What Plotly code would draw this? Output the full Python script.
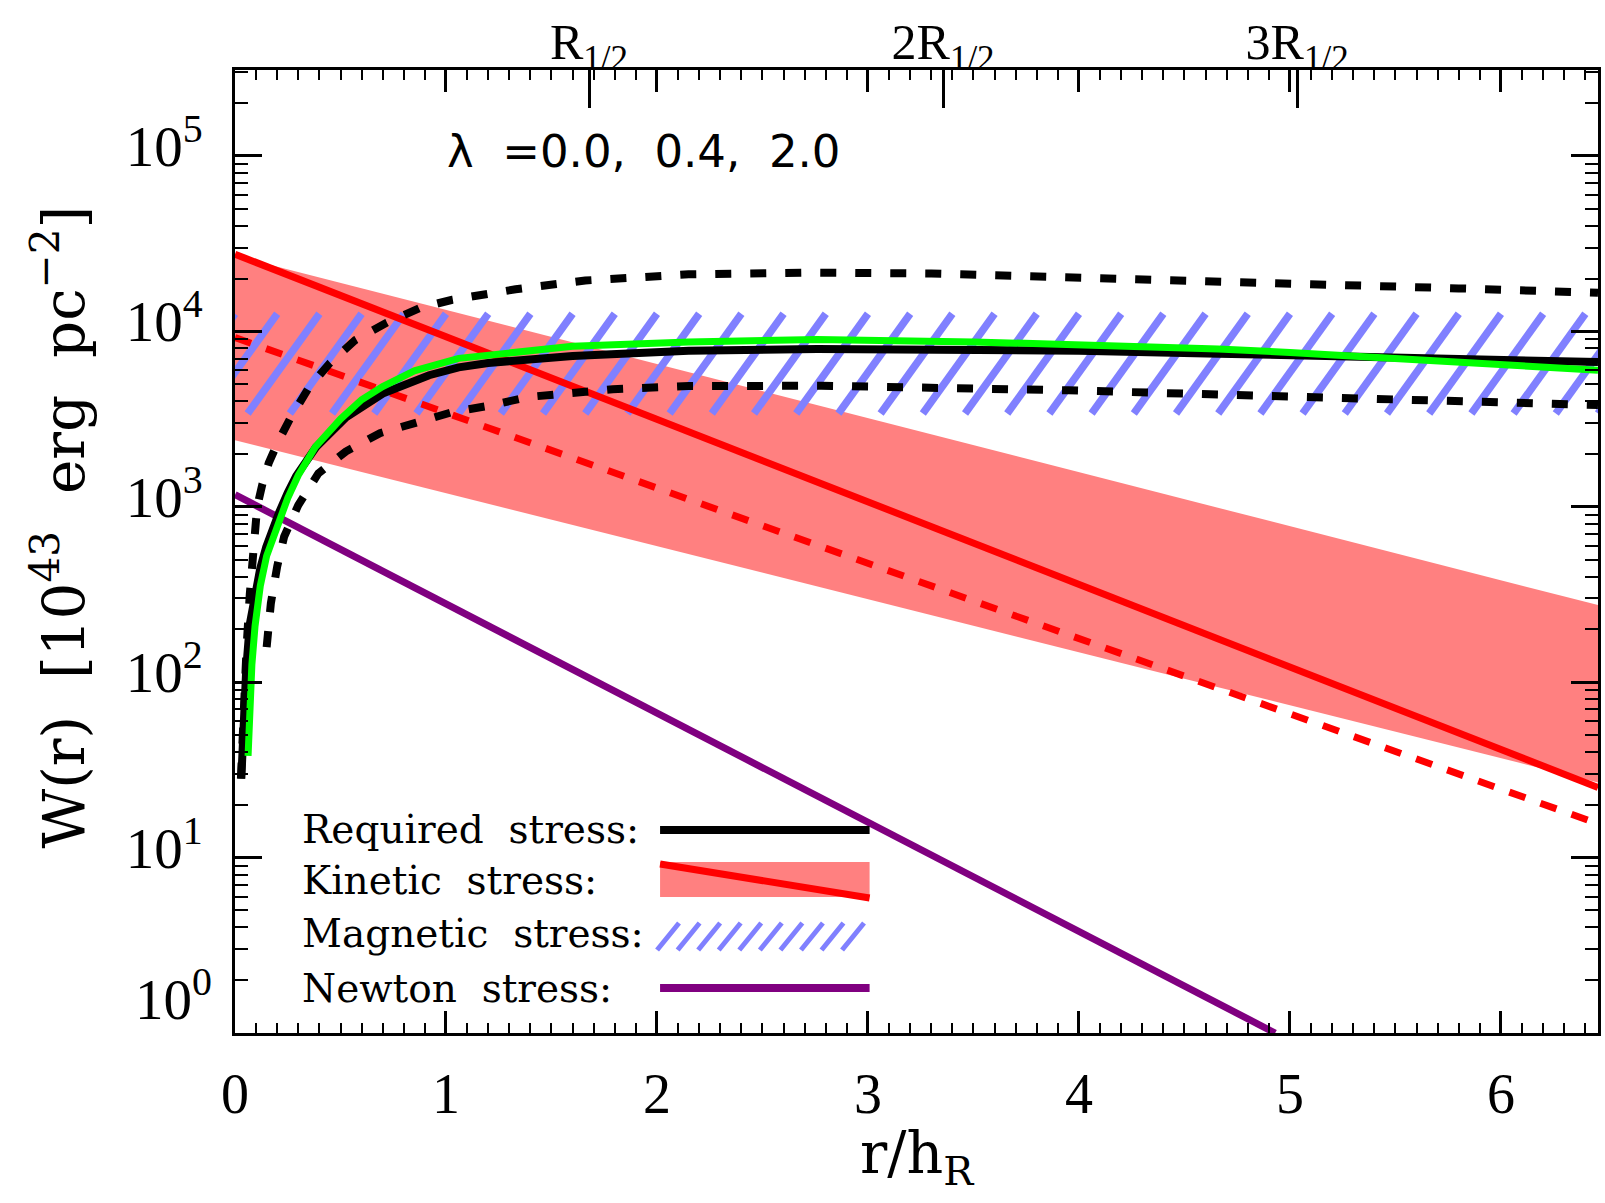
import numpy as np
import plotly.graph_objects as go

# ---------------- data (x = r/h_R, W in 10^43 erg pc^-2) ----------------
req_x = [0.03, 0.04, 0.053, 0.07, 0.092, 0.12, 0.148, 0.18, 0.21, 0.25, 0.29, 0.384, 0.526,
         0.7, 0.92, 1.06, 1.2, 1.6, 2.15, 2.76, 3.5, 4.0, 4.66, 5.37, 6.0, 6.46]
req_w = [28.2, 56.2, 117.5, 213.8, 316, 447, 589, 759, 933, 1202, 1496, 2188, 3236,
         4416, 5623, 6237, 6607, 7244, 7762, 7943, 7852, 7762, 7464, 7161, 6918, 6683]

req_hi_x = [0.028, 0.04, 0.055, 0.07, 0.085, 0.105, 0.13, 0.16, 0.2, 0.26, 0.35, 0.45, 0.57,
            0.72, 0.88, 1.03, 1.33, 1.66, 2.15, 2.75, 3.3, 3.95, 4.5, 5.1, 5.8, 6.46]
req_hi_w = [28.2, 70.8, 158.5, 316, 603, 1000, 1349, 1778, 2291, 3162, 4786, 6607, 8913,
            11220, 13650, 15140, 17380, 19500, 21130, 21630, 21380, 20420, 19720, 18620, 17580, 16600]

req_lo_x = [0.15, 0.17, 0.2, 0.233, 0.3, 0.395, 0.525, 0.687, 0.86, 1.03, 1.2, 1.39, 1.79,
            2.15, 2.78, 3.4, 3.95, 4.5, 5.13, 5.8, 6.46]
req_lo_w = [158.5, 282, 457, 676, 1023, 1549, 2065, 2630, 3020, 3467, 3758, 4227, 4677,
            4875, 4898, 4786, 4613, 4416, 4227, 3981, 3802]

fit_x = [0.062, 0.07, 0.08, 0.095, 0.12, 0.15, 0.2, 0.25, 0.3, 0.38, 0.5, 0.6, 0.7, 0.85,
         1.06, 1.6, 2.15, 2.76, 3.5, 4.0, 4.66, 5.0, 5.37, 5.6, 6.0, 6.46]
fit_w = [38.0, 70.8, 125.9, 208.9, 354.8, 524.8, 794.3, 1122, 1514, 2188, 3162, 4074, 4842, 5957,
         7015, 8222, 8710, 8974, 8710, 8414, 7943, 7586, 7161, 6839, 6457, 5998]

kin_x = [0, 1, 2, 3, 4, 5, 6, 6.46]
kin_w = [27540, 9330, 3162, 1072, 363, 123, 41.7, 25.1]

kin_dash_x = [0, 1, 2, 3, 4, 5, 6, 6.46]
kin_dash_w = [9226, 3436, 1279, 476, 177, 66.1, 24.6, 15.6]

kin_band_x = [0, 3.23, 6.46]
kin_band_hi = [26920, 2723, 275]
kin_band_lo = [2393, 253, 26.8]

mag_x = [0, 6.46]
mag_lo = [3400, 3400]
mag_hi = [12600, 12600]

newton_x = [0, 1, 2, 3, 4, 4.93]
newton_w = [1172, 279, 66.7, 15.8, 3.8, 1.0]

x_ticks = [0, 1, 2, 3, 4, 5, 6]
y_ticks = [1e1, 1e2, 1e3, 1e4, 1e5]
y_tick_text = ["10<sup>1</sup>", "10<sup>2</sup>", "10<sup>3</sup>", "10<sup>4</sup>", "10<sup>5</sup>"]
top_ticks = [1.678, 3.356, 5.034]
top_tick_text = ["R<sub>1/2</sub>", "2R<sub>1/2</sub>", "3R<sub>1/2</sub>"]

legend_labels = ["Required  stress:", "Kinetic  stress:", "Magnetic  stress:", "Newton  stress:"]
lambda_text = "λ  =0.0,  0.4,  2.0"

# ---------------- styles ----------------
PINK = "#FF8080"
RED = "#FF0000"
HATCH = "#8080FF"
PURPLE = "#800080"
GREEN = "#00FF00"
SERIF = "DejaVu Serif, Liberation Serif, serif"
NUM = "Liberation Serif, DejaVu Serif, serif"
SANS = "DejaVu Sans, Liberation Sans, sans-serif"

W_FIG, H_FIG = 1605, 1203
ML, MR, MT, MB = 235, 4, 70, 170
WP = W_FIG - ML - MR
HP = H_FIG - MT - MB
XMAX = 6.46


def px(xp):
    return (xp - ML) / WP


def py(yp):
    return (H_FIG - MB - yp) / HP


fig = go.Figure()

# kinetic band
fig.add_trace(go.Scatter(
    x=kin_band_x + kin_band_x[::-1], y=kin_band_hi + kin_band_lo[::-1],
    fill="toself", fillcolor=PINK, line=dict(width=0), mode="lines",
    showlegend=False, hoverinfo="skip"))

# magnetic band hatch
HATCH_STEP = 0.2
HATCH_RUN = 0.34
lo_log = np.log10(mag_lo)
hi_log = np.log10(mag_hi)
hx, hy = [], []
for xt in np.arange(0.0, XMAX + HATCH_RUN + 1e-9, HATCH_STEP):
    xb = xt - HATCH_RUN
    hx += [xb, xt, None]
    hy += [10 ** np.interp(xb, mag_x, lo_log), 10 ** np.interp(xt, mag_x, hi_log), None]
fig.add_trace(go.Scatter(x=hx, y=hy, mode="lines", line=dict(color=HATCH, width=7.5),
                         showlegend=False, hoverinfo="skip"))

# kinetic lines
fig.add_trace(go.Scatter(x=kin_x, y=kin_w, mode="lines", line=dict(color=RED, width=7),
                         showlegend=False))
fig.add_trace(go.Scatter(x=kin_dash_x, y=kin_dash_w, mode="lines",
                         line=dict(color=RED, width=7, dash="17px,16px"), showlegend=False))
# Newton
fig.add_trace(go.Scatter(x=newton_x, y=newton_w, mode="lines", line=dict(color=PURPLE, width=7),
                         showlegend=False))
# required stress
fig.add_trace(go.Scatter(x=req_hi_x, y=req_hi_w, mode="lines",
                         line=dict(color="black", width=8, dash="16px,19px"), showlegend=False))
fig.add_trace(go.Scatter(x=req_lo_x, y=req_lo_w, mode="lines",
                         line=dict(color="black", width=8, dash="16px,19px"), showlegend=False))
fig.add_trace(go.Scatter(x=req_x, y=req_w, mode="lines", line=dict(color="black", width=8),
                         showlegend=False))
fig.add_trace(go.Scatter(x=fit_x, y=fit_w, mode="lines", line=dict(color=GREEN, width=7),
                         showlegend=False))
# dummy for top axis
fig.add_trace(go.Scatter(x=[None], y=[None], xaxis="x2", showlegend=False, hoverinfo="skip"))

# ---------------- legend (drawn) ----------------
shapes = []
rows = [830, 880, 933, 988]
sx0, sx1 = 661, 871
shapes.append(dict(type="line", xref="paper", yref="paper", x0=px(sx0), x1=px(sx1),
                   y0=py(rows[0]), y1=py(rows[0]), line=dict(color="black", width=8)))
shapes.append(dict(type="rect", xref="paper", yref="paper", x0=px(sx0), x1=px(sx1),
                   y0=py(897), y1=py(862), fillcolor=PINK, line=dict(width=0)))
shapes.append(dict(type="line", xref="paper", yref="paper", x0=px(sx0), x1=px(sx1),
                   y0=py(864), y1=py(898), line=dict(color=RED, width=7)))
for k in range(10):
    shapes.append(dict(type="line", xref="paper", yref="paper",
                       x0=px(658 + 20.6 * k), x1=px(680 + 20.6 * k),
                       y0=py(950), y1=py(923), line=dict(color=HATCH, width=5)))
shapes.append(dict(type="line", xref="paper", yref="paper", x0=px(sx0), x1=px(sx1),
                   y0=py(rows[3]), y1=py(rows[3]), line=dict(color=PURPLE, width=8)))

annotations = []
for lab, r in zip(legend_labels, rows):
    annotations.append(dict(text=lab, xref="paper", yref="paper", x=px(300), y=py(r),
                            xanchor="left", yanchor="middle", showarrow=False,
                            font=dict(family=SERIF, size=39, color="black")))
annotations.append(dict(text=lambda_text, xref="paper", yref="paper", x=px(445), y=py(151),
                        xanchor="left", yanchor="middle", showarrow=False,
                        font=dict(family=SANS, size=45, color="black")))
annotations.append(dict(text="W(r)  [10<sup>43</sup>  erg  pc<sup>−2</sup>]", xref="paper",
                        yref="paper", x=px(59), y=py(527), xanchor="center", yanchor="middle",
                        textangle=-90, showarrow=False,
                        font=dict(family=SERIF, size=58, color="black")))
annotations.append(dict(text="r/h<sub>R</sub>", xref="paper", yref="paper", x=px(918), y=py(1157),
                        xanchor="center", yanchor="middle", showarrow=False,
                        font=dict(family=SERIF, size=57, color="black")))
annotations.append(dict(text="10<sup>0</sup>", xref="paper", yref="paper", x=px(214), y=py(995),
                        xanchor="right", yanchor="middle", showarrow=False,
                        font=dict(family=NUM, size=57, color="black")))

minor_x = [round(v, 1) for v in np.arange(0.1, XMAX, 0.1) if abs(v - round(v)) > 1e-6]
minor_y = [m * 10 ** e for e in range(0, 6) for m in range(2, 10) if m * 10 ** e < 3.1e5]

fig.update_layout(
    width=W_FIG, height=H_FIG,
    margin=dict(l=ML, r=MR, t=MT, b=MB),
    paper_bgcolor="white", plot_bgcolor="white",
    showlegend=False,
    shapes=shapes, annotations=annotations,
    xaxis=dict(range=[0, XMAX], tickmode="array", tickvals=x_ticks,
               ticktext=[str(v) for v in x_ticks],
               ticks="inside", ticklen=22, tickwidth=2.5, tickcolor="black",
               showline=True, linewidth=3, linecolor="black", mirror="ticks",
               showgrid=False, zeroline=False,
               minor=dict(tickvals=minor_x, ticks="inside", ticklen=10, tickwidth=2,
                          tickcolor="black", showgrid=False),
               tickfont=dict(family=NUM, size=56, color="black"), ticklabelstandoff=10),
    xaxis2=dict(range=[0, XMAX], overlaying="x", side="top", anchor="y",
                tickmode="array", tickvals=top_ticks, ticktext=top_tick_text,
                ticks="inside", ticklen=38, tickwidth=2.5, tickcolor="black",
                showline=False, showgrid=False, zeroline=False,
                tickfont=dict(family=NUM, size=50, color="black")),
    yaxis=dict(type="log", range=[0, 5.49], tickmode="array", tickvals=y_ticks,
               ticktext=y_tick_text,
               ticks="inside", ticklen=27, tickwidth=2.5, tickcolor="black",
               showline=True, linewidth=3, linecolor="black", mirror="ticks",
               showgrid=False, zeroline=False,
               minor=dict(tickvals=minor_y, ticks="inside", ticklen=13, tickwidth=2,
                          tickcolor="black", showgrid=False),
               tickfont=dict(family=NUM, size=57, color="black"),
               ticklabelstandoff=18, ticklabelshift=-10),
)

fig.write_html("out.html")
